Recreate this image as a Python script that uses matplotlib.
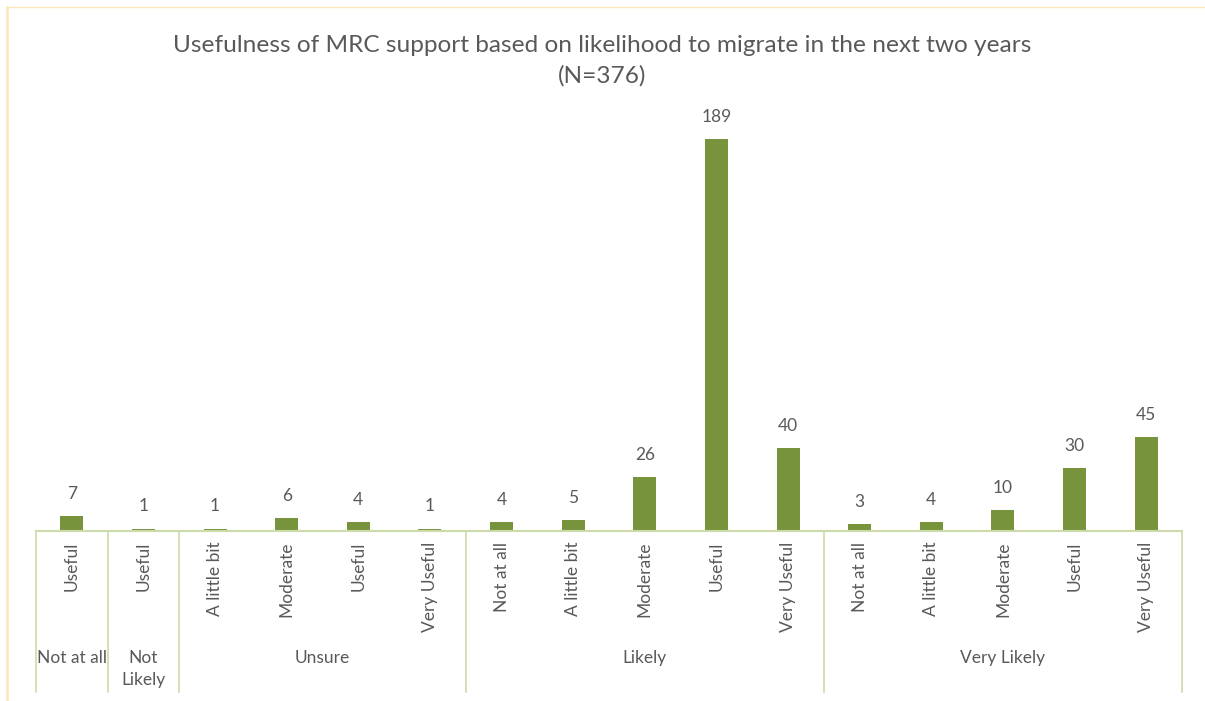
import matplotlib.pyplot as plt
from matplotlib.lines import Line2D
import matplotlib.transforms as mtransforms

plt.rcParams['font.family'] = ['Lato', 'DejaVu Sans']

# data
groups = ['Not at all', 'Not\nLikely', 'Unsure', 'Likely', 'Very Likely']
sub_labels = [
    ['Useful'],
    ['Useful'],
    ['A little bit', 'Moderate', 'Useful', 'Very Useful'],
    ['Not at all', 'A little bit', 'Moderate', 'Useful', 'Very Useful'],
    ['Not at all', 'A little bit', 'Moderate', 'Useful', 'Very Useful'],
]
counts = [
    [7],
    [1],
    [1, 6, 4, 1],
    [4, 5, 26, 189, 40],
    [3, 4, 10, 30, 45],
]

bar_color = '#77933C'
text_color = '#595959'
axis_color = '#CCDBAA'

labels = [s for grp in sub_labels for s in grp]
values = [v for grp in counts for v in grp]
x = list(range(len(values)))

W, H = 1205, 701
fig = plt.figure(figsize=(W / 100, H / 100), dpi=100)
base_y = 530.7
top_y = 116.0
ax = fig.add_axes([36 / W, (H - base_y) / H, (1182 - 36) / W, (base_y - top_y) / H])

ax.bar(x, values, width=0.32, color=bar_color)
ax.set_xlim(-0.5, len(values) - 0.5)
ax.set_ylim(0, 200)

for s in ['top', 'right', 'left']:
    ax.spines[s].set_visible(False)
ax.spines['bottom'].set_color(axis_color)
ax.spines['bottom'].set_linewidth(1.5)
ax.set_yticks([])
ax.set_xticks(x)
ax.set_xticklabels(labels, rotation=90, va='top', ha='center', fontsize=12.5, color=text_color)
ax.tick_params(axis='x', length=0, pad=8)

for xi, v in zip(x, values):
    ax.annotate(str(v), (xi, v), xytext=(0, 16), textcoords='offset points',
                ha='center', va='center', fontsize=12.5, color=text_color)

# group separators and group labels below the axis
trans = mtransforms.blended_transform_factory(ax.transData, ax.transAxes)
bottom_frac = (base_y - 691.7) / (base_y - top_y)
label_frac = (base_y - 650) / (base_y - top_y)
edges = [-0.5]
for grp in counts:
    edges.append(edges[-1] + len(grp))
for e in edges:
    ax.add_line(Line2D([e, e], [0, bottom_frac], transform=trans, color=axis_color,
                       lw=1.2, clip_on=False))
for i, g in enumerate(groups):
    cx = (edges[i] + edges[i + 1]) / 2
    ax.text(cx, label_frac, g, transform=trans, ha='center', va='top',
            fontsize=12.5, color=text_color, linespacing=1.5)

fig.text(0.5, (H - 45) / H, 'Usefulness of MRC support based on likelihood to migrate in the next two years',
         ha='center', va='center', fontsize=17.6, color=text_color)
fig.text(0.5, (H - 76) / H, '(N=376)', ha='center', va='center', fontsize=17.6, color=text_color)

# pale chart border (top and left edge visible)
border = '#FCE6BC'
fig.add_artist(Line2D([7 / W, 1], [(H - 7) / H, (H - 7) / H], transform=fig.transFigure, color=border, lw=1))
fig.add_artist(Line2D([7 / W, 7 / W], [0, (H - 7) / H], transform=fig.transFigure, color=border, lw=1.8))

fig.savefig('out.png', dpi=100)
